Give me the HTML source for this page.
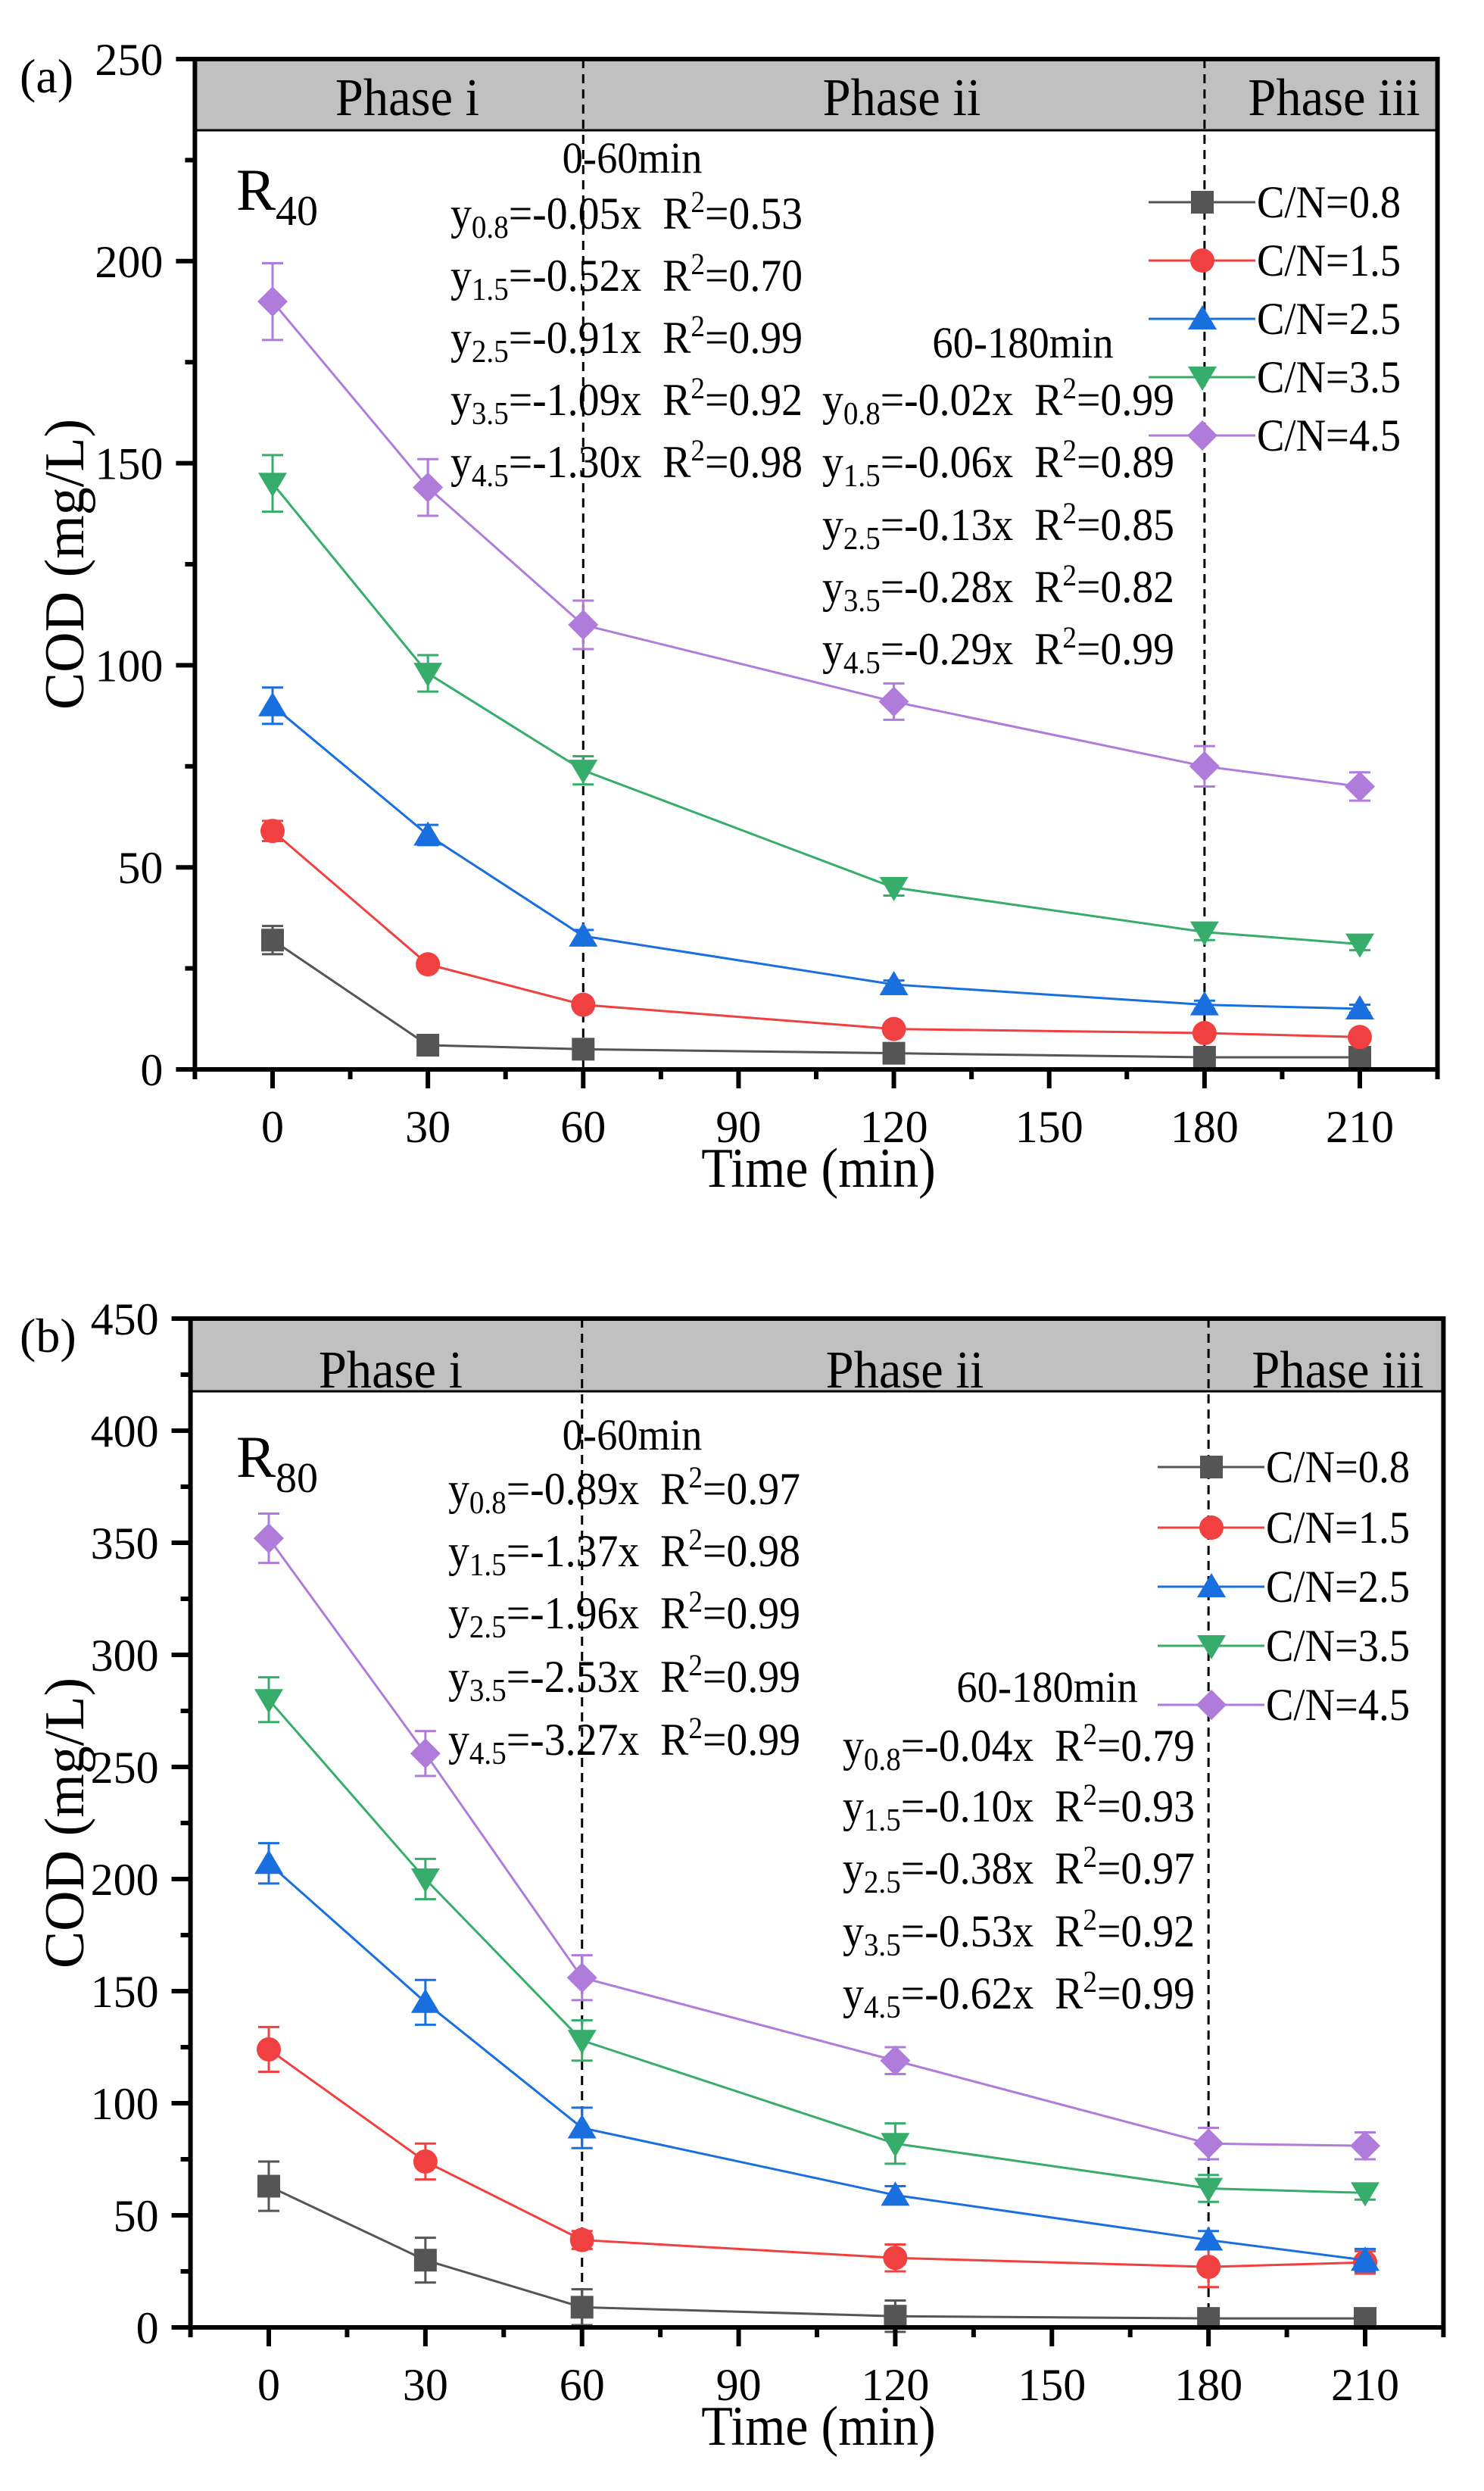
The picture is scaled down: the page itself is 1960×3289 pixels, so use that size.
<!DOCTYPE html>
<html><head><meta charset="utf-8">
<style>
html,body{margin:0;padding:0;background:#fff;}
svg{display:block;font-family:"Liberation Serif","Times New Roman",serif;}
</style></head>
<body>
<svg id="fig" width="1960" height="3289" viewBox="0 0 1960 3289" xmlns="http://www.w3.org/2000/svg"></svg>
<script>
// ---------- data ----------
const times = [0, 30, 60, 120, 180, 210];
const seriesNames = ["C/N=0.8", "C/N=1.5", "C/N=2.5", "C/N=3.5", "C/N=4.5"];
// Panel (a) R40
const a_cn08 = [32, 6, 5, 4, 3, 3];
const a_cn15 = [59, 26, 16, 10, 9, 8];
const a_cn25 = [90, 58, 33, 21, 16, 15];
const a_cn35 = [145, 98, 74, 45, 34, 31];
const a_cn45 = [190, 144, 110, 91, 75, 70];
const a_err08 = [3.5, 1, 1, 1, 1, 1];
const a_err15 = [2.5, 1, 1, 1, 1, 1];
const a_err25 = [4.5, 2.5, 1.5, 1, 1, 1];
const a_err35 = [7, 4.5, 3.5, 2, 2, 1.5];
const a_err45 = [9.5, 7, 6, 4.5, 5, 3.5];
// Panel (b) R80
const b_cn08 = [63, 30, 9, 5, 4, 4];
const b_cn15 = [124, 74, 39, 31, 27, 29];
const b_cn25 = [207, 145, 89, 59, 39, 30];
const b_cn35 = [280, 200, 128, 82, 62, 60];
const b_cn45 = [352, 256, 156, 119, 82, 81];
const b_err08 = [11, 10, 8, 7, 2, 2];
const b_err15 = [10, 8, 4, 6, 9, 5];
const b_err25 = [9, 10, 9, 4, 4, 5];
const b_err35 = [10, 9, 9, 9, 6, 3];
const b_err45 = [11, 10, 10, 6, 7, 6];
const xTicks = [0, 30, 60, 90, 120, 150, 180, 210];
const a_yTicks = [0, 50, 100, 150, 200, 250];
const b_yTicks = [0, 50, 100, 150, 200, 250, 300, 350, 400, 450];
const a_eq1 = [["0.8","-0.05x","0.53"],["1.5","-0.52x","0.70"],["2.5","-0.91x","0.99"],["3.5","-1.09x","0.92"],["4.5","-1.30x","0.98"]];
const a_eq2 = [["0.8","-0.02x","0.99"],["1.5","-0.06x","0.89"],["2.5","-0.13x","0.85"],["3.5","-0.28x","0.82"],["4.5","-0.29x","0.99"]];
const b_eq1 = [["0.8","-0.89x","0.97"],["1.5","-1.37x","0.98"],["2.5","-1.96x","0.99"],["3.5","-2.53x","0.99"],["4.5","-3.27x","0.99"]];
const b_eq2 = [["0.8","-0.04x","0.79"],["1.5","-0.10x","0.93"],["2.5","-0.38x","0.97"],["3.5","-0.53x","0.92"],["4.5","-0.62x","0.99"]];

const colors = ["#555555", "#f04040", "#1a6fdf", "#37ad6b", "#b07cdb"];
const markers = ["square", "circle", "up", "down", "diamond"];
const NS = "http://www.w3.org/2000/svg";
const svg = document.getElementById("fig");

function mk(tag, attrs, parent, text) {
  const e = document.createElementNS(NS, tag);
  for (const k in attrs) e.setAttribute(k, attrs[k]);
  if (text !== undefined) e.textContent = text;
  (parent || svg).appendChild(e);
  return e;
}
// horizontally condensed text (reference font is narrower)
function stext(x, y, sx, attrs, parent, text) {
  const a = Object.assign({x: 0, y: 0, transform: `translate(${x},${y}) scale(${sx},1)`}, attrs);
  return mk("text", a, parent, text);
}

function marker(g, type, cx, cy, color) {
  const s = 15;
  let e;
  if (type === "square") e = mk("rect", {x: cx - s, y: cy - s, width: 2 * s, height: 2 * s, fill: color}, g);
  else if (type === "circle") e = mk("circle", {cx: cx, cy: cy, r: s + 1, fill: color}, g);
  else if (type === "up") e = mk("polygon", {points: `${cx},${cy - s - 3} ${cx - s - 4},${cy + s - 1} ${cx + s + 4},${cy + s - 1}`, fill: color}, g);
  else if (type === "down") e = mk("polygon", {points: `${cx},${cy + s + 3} ${cx - s - 4},${cy - s + 1} ${cx + s + 4},${cy - s + 1}`, fill: color}, g);
  else e = mk("polygon", {points: `${cx},${cy - s - 5} ${cx + s + 5},${cy} ${cx},${cy + s + 5} ${cx - s - 5},${cy}`, fill: color}, g);
  
  
  return e;
}

function panel(cfg) {
  const g = mk("g", {});
  
  
  const X = t => cfg.x0 + (t - 0) * (cfg.x210 - cfg.x0) / 210;
  const Y = v => cfg.yb - v * (cfg.yb - cfg.yt) / cfg.ymax;
  const L = X(-15), R = X(225);
  const hb = mk("rect", {x: L, y: cfg.yt, width: R - L, height: cfg.hb - cfg.yt, fill: "#c0c0c0", stroke: "#000", "stroke-width": 3}, g);
  
  
  cfg.phases.forEach((p, i) => {
    const t = stext(p[1], cfg.phaseY, 0.95, {"font-size": 70, "text-anchor": "middle"}, g, p[0]);
    
    
  });
  [60, 180].forEach(t => {
    const l = mk("line", {x1: X(t), x2: X(t), y1: cfg.yt, y2: cfg.yb, stroke: "#000", "stroke-width": 3, "stroke-dasharray": "12,8"}, g);
    
    
  });
  cfg.series.forEach((vals, si) => {
    const sg = mk("g", {}, g);
    
    
    const pts = times.map((t, i) => `${X(t)},${Y(vals[i])}`).join(" ");
    mk("polyline", {points: pts, fill: "none", stroke: colors[si], "stroke-width": 3}, sg);
    times.forEach((t, i) => {
      const e = cfg.errs[si][i];
      const cx = X(t);
      mk("line", {x1: cx, x2: cx, y1: Y(vals[i] - e), y2: Y(vals[i] + e), stroke: colors[si], "stroke-width": 3}, sg);
      mk("line", {x1: cx - 14, x2: cx + 14, y1: Y(vals[i] + e), y2: Y(vals[i] + e), stroke: colors[si], "stroke-width": 3}, sg);
      mk("line", {x1: cx - 14, x2: cx + 14, y1: Y(vals[i] - e), y2: Y(vals[i] - e), stroke: colors[si], "stroke-width": 3}, sg);
      marker(sg, markers[si], cx, Y(vals[i]), colors[si]);
    });
  });
  const fr = mk("rect", {x: L, y: cfg.yt, width: R - L, height: cfg.yb - cfg.yt, fill: "none", stroke: "#000", "stroke-width": 6}, g);
  
  
  for (let t = -15; t <= 225; t += 15) {
    const major = (t % 30 === 0);
    mk("line", {x1: X(t), x2: X(t), y1: cfg.yb, y2: cfg.yb + (major ? 25 : 13), stroke: "#000", "stroke-width": 6}, g);
  }
  xTicks.forEach(t => {
    const tl = mk("text", {x: X(t), y: cfg.yb + 96, "font-size": 60, "text-anchor": "middle"}, g, String(t));
    
    
  });
  for (let v = 0; v <= cfg.ymax; v += 25) {
    const major = (v % 50 === 0);
    mk("line", {x1: L, x2: L - (major ? 25 : 13), y1: Y(v), y2: Y(v), stroke: "#000", "stroke-width": 6}, g);
  }
  cfg.yTicks.forEach(v => {
    const tl = mk("text", {x: L - 42, y: Y(v) + 21, "font-size": 60, "text-anchor": "end"}, g, String(v));
    
    
  });
  const xt = stext(1081, cfg.yb + 155, 0.92, {"font-size": 74, "text-anchor": "middle"}, g, "Time (min)");
  
  
  const cy = (cfg.yt + cfg.yb) / 2;
  const yt = mk("text", {x: 0, y: 0, "font-size": 74, "text-anchor": "middle", transform: `translate(110,${cy}) rotate(-90)`}, g, "COD (mg/L)");
  
  
  const pl = mk("text", {x: 26, y: cfg.yt + 44, "font-size": 64}, g, cfg.label);
  
  
  const rl = mk("text", {x: 312, y: cfg.rY, "font-size": 78}, g);
  
  
  mk("tspan", {}, rl, "R");
  mk("tspan", {dy: 20, "font-size": 56}, rl, cfg.rSub);
  function eqBlock(title, tx, ty, x, ys, eqs, nm) {
    const bg = mk("g", {}, g);
    
    
    stext(tx, ty, 0.94, {"font-size": 58, "text-anchor": "middle"}, bg, title);
    eqs.forEach((q, i) => {
      const t = stext(x, ys[i], 0.93, {"font-size": 60}, bg);
      mk("tspan", {}, t, "y");
      mk("tspan", {dy: 12, "font-size": 42}, t, q[0]);
      mk("tspan", {dy: -12}, t, "=" + q[1] + "\u00a0\u00a0R");
      mk("tspan", {dy: -22, "font-size": 40}, t, "2");
      mk("tspan", {dy: 22}, t, "=" + q[2]);
    });
  }
  eqBlock("0-60min", 835, cfg.e1ty, cfg.e1x, cfg.e1ys, cfg.eq1, 'equations-0-60min');
  eqBlock("60-180min", cfg.e2tx, cfg.e2ty, cfg.e2x, cfg.e2ys, cfg.eq2, 'equations-60-180min');
  seriesNames.forEach((n, i) => {
    const lg = mk("g", {}, g);
    
    
    const ly = cfg.legY[i];
    mk("line", {x1: cfg.legX - 71, x2: cfg.legX + 70, y1: ly, y2: ly, stroke: colors[i], "stroke-width": 3}, lg);
    marker(lg, markers[i], cfg.legX, ly, colors[i]);
    stext(cfg.legX + 72, ly + 20, 0.91, {"font-size": 60}, lg, n);
  });
}

panel({
  name: "panel-a", label: "(a)", x0: 360, x210: 1796, yt: 78, yb: 1412, hb: 172, ymax: 250,
  yTicks: a_yTicks,
  series: [a_cn08, a_cn15, a_cn25, a_cn35, a_cn45],
  errs: [a_err08, a_err15, a_err25, a_err35, a_err45],
  phaseY: 152, phases: [["Phase i", 538], ["Phase ii", 1191], ["Phase iii", 1762]],
  rY: 277, rSub: "40",
  e1ty: 228, e1x: 595, e1ys: [302, 384, 466, 548, 630], eq1: a_eq1,
  e2tx: 1351, e2ty: 472, e2x: 1086, e2ys: [548, 630, 713, 795, 877], eq2: a_eq2,
  legX: 1588, legY: [267, 344, 421, 498, 575]
});
panel({
  name: "panel-b", label: "(b)", x0: 355, x210: 1803, yt: 1741, yb: 3073, hb: 1837, ymax: 450,
  yTicks: b_yTicks,
  series: [b_cn08, b_cn15, b_cn25, b_cn35, b_cn45],
  errs: [b_err08, b_err15, b_err25, b_err35, b_err45],
  phaseY: 1832, phases: [["Phase i", 516], ["Phase ii", 1195], ["Phase iii", 1767]],
  rY: 1950, rSub: "80",
  e1ty: 1914, e1x: 592, e1ys: [1986, 2068, 2150, 2234, 2317], eq1: b_eq1,
  e2tx: 1383, e2ty: 2247, e2x: 1113, e2ys: [2325, 2405, 2487, 2570, 2652], eq2: b_eq2,
  legX: 1600, legY: [1937, 2017, 2095, 2173, 2251]
});
</script>
</body></html>
